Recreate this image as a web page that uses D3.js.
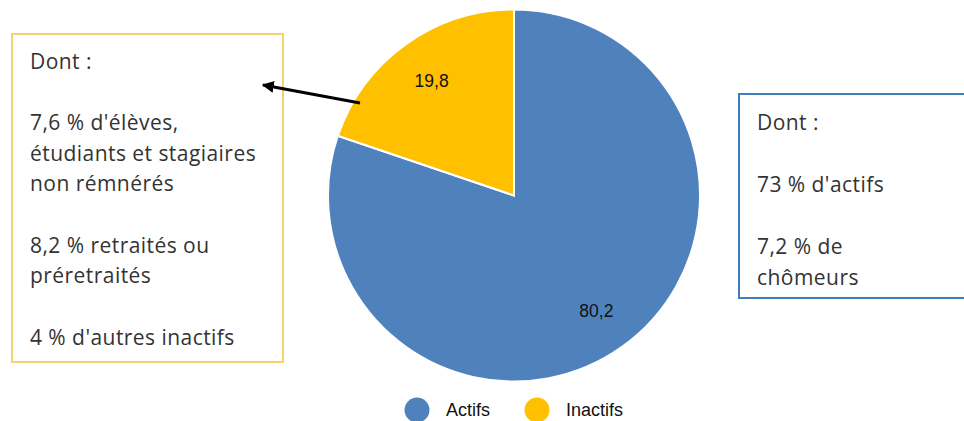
<!DOCTYPE html>
<html>
<head>
<meta charset="utf-8">
<script src="https://cdn.jsdelivr.net/npm/d3@7"></script>
<style>
  html, body { margin: 0; padding: 0; background: #fff; }
  svg { display: block; }
</style>
</head>
<body>
<svg id="chart" width="964" height="421"></svg>
<script>
// Population by activity status (%)
const categories = ["Actifs", "Inactifs"];
const values = [80.2, 19.8];
const valueLabels = ["80,2", "19,8"];
const colors = ["#4F81BD", "#FFC000"];

// Breakdown notes shown beside the pie
const inactiveNotes = [
  "Dont :", "", "7,6 % d'élèves,", "étudiants et stagiaires", "non rémnérés", "",
  "8,2 % retraités ou", "préretraités", "", "4 % d'autres inactifs"
];
const activeNotes = ["Dont :", "", "73 % d'actifs", "", "7,2 % de", "chômeurs"];

const svg = d3.select("#chart");
const cx = 514, cy = 195.5, radius = 186;

const pie = d3.pie().sort(null).value(d => d)(values);
const arc = d3.arc().innerRadius(0).outerRadius(radius);
const labelArc = d3.arc().innerRadius(radius * 0.76).outerRadius(radius * 0.76);
const color = d3.scaleOrdinal().domain(categories).range(colors);

const g = svg.append("g").attr("transform", `translate(${cx},${cy})`);
g.selectAll("path.slice")
  .data(pie)
  .join("path")
  .attr("class", "slice")
  .attr("d", arc)
  .attr("fill", (d, i) => color(categories[i]))
  .attr("stroke", "#fff")
  .attr("stroke-width", 2);

g.selectAll("text.val")
  .data(pie)
  .join("text")
  .attr("class", "val")
  .attr("transform", d => `translate(${labelArc.centroid(d)})`)
  .attr("text-anchor", "middle")
  .attr("dy", "0.35em")
  .attr("font-family", "Liberation Sans, Arial, sans-serif")
  .attr("font-size", 17.5)
  .attr("fill", "#111")
  .text((d, i) => valueLabels[i]);

// Note boxes
function noteBox(x, y, w, h, stroke, lines, tx, ty, lh) {
  svg.append("rect")
    .attr("x", x).attr("y", y).attr("width", w).attr("height", h)
    .attr("fill", "#fff").attr("stroke", stroke).attr("stroke-width", 2);
  const t = svg.append("text")
    .attr("font-family", "'Open Sans', sans-serif")
    .attr("font-size", 21)
    .attr("letter-spacing", 0.45)
    .attr("fill", "#333");
  lines.forEach((s, i) => {
    t.append("tspan").attr("x", tx).attr("y", ty + i * lh).text(s);
  });
}
noteBox(12, 34, 271, 328, "#F5D36B", inactiveNotes, 30, 68.5, 30.7);
noteBox(739, 94, 226, 204, "#3D7EC0", activeNotes, 757, 129.5, 31);

// Arrow from the Inactifs slice to its note box
svg.append("defs").append("marker")
  .attr("id", "head")
  .attr("viewBox", "0 0 10 10")
  .attr("refX", 9).attr("refY", 5)
  .attr("markerWidth", 4).attr("markerHeight", 4)
  .attr("orient", "auto")
  .append("path").attr("d", "M0,0 L10,5 L0,10 z").attr("fill", "#000");
svg.append("line")
  .attr("x1", 360).attr("y1", 103).attr("x2", 263).attr("y2", 85)
  .attr("stroke", "#000").attr("stroke-width", 3)
  .attr("marker-end", "url(#head)");

// Legend
const legend = svg.append("g");
const legendX = [417, 537];
categories.forEach((c, i) => {
  legend.append("circle")
    .attr("cx", legendX[i]).attr("cy", 410).attr("r", 12.5)
    .attr("fill", color(c));
  legend.append("text")
    .attr("x", legendX[i] + 29).attr("y", 410)
    .attr("dy", "0.35em")
    .attr("font-family", "Liberation Sans, Arial, sans-serif")
    .attr("font-size", 18)
    .attr("fill", "#111")
    .text(c);
});
</script>
</body>
</html>
